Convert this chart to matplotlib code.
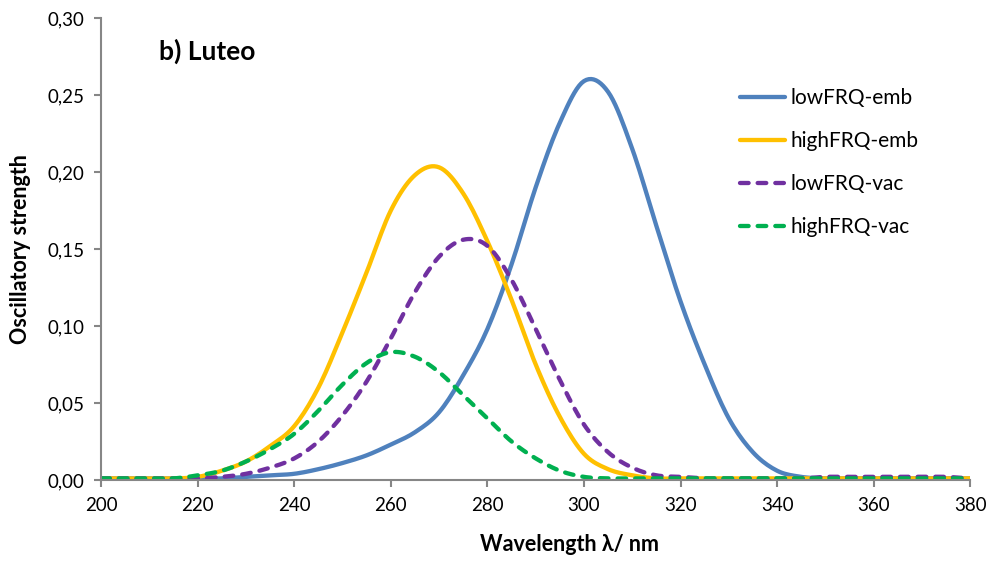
import matplotlib.pyplot as plt
import numpy as np
from matplotlib.ticker import FuncFormatter

plt.rcParams['font.family'] = ['Lato', 'DejaVu Sans']

# wavelength grid (nm)
wl = [200, 205, 210, 215, 220, 225, 230, 235, 240, 245, 250, 255, 260, 265,
      270, 275, 280, 285, 290, 295, 300, 305, 310, 315, 320, 325, 330, 335,
      340, 345, 350, 355, 360, 365, 370, 375, 380]

low_emb = [0.001, 0.001, 0.001, 0.001, 0.001, 0.001, 0.002, 0.003, 0.004, 0.007,
           0.011, 0.016, 0.023, 0.031, 0.044, 0.068, 0.098, 0.140, 0.190, 0.232,
           0.259, 0.252, 0.215, 0.165, 0.116, 0.075, 0.040, 0.018, 0.006, 0.002,
           0.001, 0.001, 0.001, 0.001, 0.001, 0.001, 0.001]

high_emb = [0.001, 0.001, 0.001, 0.001, 0.002, 0.006, 0.012, 0.022, 0.035, 0.060,
            0.096, 0.135, 0.175, 0.198, 0.203, 0.186, 0.155, 0.117, 0.075, 0.041,
            0.017, 0.007, 0.003, 0.001, 0.001, 0.001, 0.001, 0.001, 0.001, 0.001,
            0.001, 0.001, 0.001, 0.001, 0.001, 0.001, 0.001]

low_vac = [0.001, 0.001, 0.001, 0.001, 0.001, 0.002, 0.004, 0.008, 0.014, 0.025,
           0.042, 0.064, 0.092, 0.122, 0.145, 0.156, 0.152, 0.130, 0.098, 0.065,
           0.036, 0.018, 0.008, 0.003, 0.002, 0.001, 0.001, 0.001, 0.001, 0.001,
           0.002, 0.002, 0.002, 0.002, 0.002, 0.002, 0.001]

high_vac = [0.001, 0.001, 0.001, 0.001, 0.003, 0.006, 0.012, 0.020, 0.030, 0.045,
            0.062, 0.076, 0.083, 0.080, 0.070, 0.055, 0.040, 0.025, 0.014, 0.006,
            0.002, 0.001, 0.001, 0.001, 0.001, 0.001, 0.001, 0.001, 0.001, 0.001,
            0.001, 0.001, 0.001, 0.001, 0.001, 0.001, 0.001]


def smooth(x, y, n=10):
    # Catmull-Rom through the points, like a spreadsheet "smoothed line"
    x = np.asarray(x, float)
    y = np.asarray(y, float)
    px = np.concatenate([[2 * x[0] - x[1]], x, [2 * x[-1] - x[-2]]])
    py = np.concatenate([[y[0]], y, [y[-1]]])
    xs, ys = [], []
    t = np.linspace(0, 1, n, endpoint=False)
    for i in range(1, len(px) - 2):
        for p, out in ((px, xs), (py, ys)):
            p0, p1, p2, p3 = p[i - 1], p[i], p[i + 1], p[i + 2]
            out.extend(0.5 * ((2 * p1) + (-p0 + p2) * t
                              + (2 * p0 - 5 * p1 + 4 * p2 - p3) * t ** 2
                              + (-p0 + 3 * p1 - 3 * p2 + p3) * t ** 3))
    xs.append(x[-1])
    ys.append(y[-1])
    return np.array(xs), np.array(ys)


fig = plt.figure(figsize=(9.92, 5.62), dpi=100)
ax = fig.add_axes([0.102, 0.146, 0.876, 0.822])

series = [
    (low_emb, 'lowFRQ-emb', '#4F81BD', '-'),
    (high_emb, 'highFRQ-emb', '#FFC000', '-'),
    (low_vac, 'lowFRQ-vac', '#7030A0', '--'),
    (high_vac, 'highFRQ-vac', '#00B050', '--'),
]
for ys, label, color, ls in series:
    sx, sy = smooth(wl, ys)
    line, = ax.plot(sx, sy, color=color, lw=3.1, label=label,
                    solid_capstyle='round', dash_capstyle='round')
    if ls == '--':
        line.set_dashes((2.0, 2.1))

ax.set_xlim(200, 380)
ax.set_ylim(0, 0.30)
ax.set_xticks(np.arange(200, 381, 20))
ax.set_yticks(np.arange(0, 0.301, 0.05))
ax.yaxis.set_major_formatter(FuncFormatter(lambda v, p: f'{v:.2f}'.replace('.', ',')))

for s in ['top', 'right']:
    ax.spines[s].set_visible(False)
for s in ['left', 'bottom']:
    ax.spines[s].set_color('#868686')
    ax.spines[s].set_linewidth(1.5)
ax.tick_params(direction='out', length=5, width=1.5, color='#868686',
               labelsize=13.5, pad=7)

ax.set_xlabel('Wavelength λ/ nm', fontsize=15.5, fontweight='bold')
ax.xaxis.set_label_coords(0.539, -0.117)
ax.set_ylabel('Oscillatory strength', fontsize=15.5, fontweight='bold', labelpad=12)
ax.text(0.066, 0.927, 'b) Luteo', transform=ax.transAxes, fontsize=19,
        fontweight='bold', va='center')

ax.legend(loc='upper left', bbox_to_anchor=(0.725, 0.866), frameon=False,
          fontsize=15, handlelength=2.2, handletextpad=0.25, labelspacing=1.1,
          borderaxespad=0)

fig.savefig('out.png', dpi=100)
